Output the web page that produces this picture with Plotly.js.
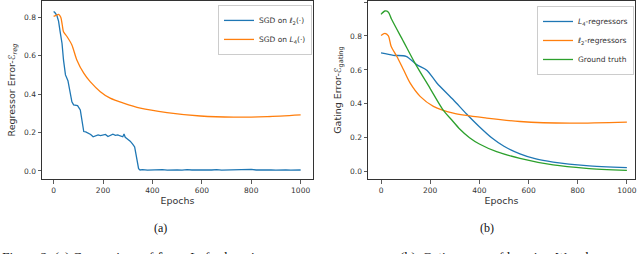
<!DOCTYPE html>
<html><head><meta charset="utf-8">
<script src="https://cdn.plot.ly/plotly-3.0.1.min.js"></script>
<style>html,body{margin:0;padding:0;background:#fff}#chart{width:640px;height:254px}</style>
</head><body><div id="chart"></div><script>
// ---- Panel (a): regressor error ----
const epochsA_l2 = [0,5,13,20,27,34,40,48,58,68,74,81,97,108,115,122,130,140,150,160,170,180,190,200,210,220,230,240,250,260,270,280,285,290,300,310,320,328,333,338,344,350,
  360,380,400,420,440,460,480,500,520,540,560,580,600,620,640,660,680,700,720,740,760,780,800,820,840,860,880,900,920,940,960,980,1000];
const errA_l2 = [0.83,0.825,0.81,0.78,0.72,0.665,0.578,0.50,0.47,0.405,0.36,0.344,0.34,0.318,0.266,0.205,0.203,0.196,0.19,0.178,0.185,0.188,0.184,0.189,0.19,0.179,0.186,0.191,0.185,0.188,0.182,0.178,0.192,0.175,0.165,0.155,0.14,0.125,0.09,0.05,0.012,0.005,
  0.007,0.004,0.006,0.005,0.007,0.004,0.006,0.005,0.004,0.007,0.005,0.006,0.004,0.006,0.005,0.007,0.004,0.005,0.006,0.004,0.005,0.007,0.008,0.005,0.006,0.004,0.005,0.004,0.006,0.005,0.004,0.006,0.005];
const epochsA_L4 = [0,10,20,29,35,40,54,74,94,122,148,189,229,283,351,459,594,729,864,1000];
const errA_L4 = [0.805,0.81,0.815,0.80,0.76,0.725,0.70,0.656,0.578,0.509,0.465,0.413,0.379,0.353,0.327,0.304,0.286,0.28,0.283,0.292];

// ---- Panel (b): gating error ----
const epochsB_L4 = [0,50,102,145,186,227,294,348,400,450,500,565,630,700,835,1000];
const gateB_L4 = [0.70,0.686,0.68,0.631,0.598,0.523,0.424,0.34,0.265,0.2,0.15,0.105,0.075,0.057,0.036,0.024];
const epochsB_l2 = [0,16,30,41,64,91,118,159,213,294,430,565,768,1000];
const gateB_l2 = [0.803,0.815,0.80,0.74,0.68,0.602,0.523,0.444,0.385,0.345,0.316,0.296,0.286,0.292];
const epochsB_gt = [0,16,30,43,91,138,200,252,287,321,360,400,470,565,700,835,1000];
const gateB_gt = [0.927,0.947,0.94,0.898,0.768,0.64,0.49,0.365,0.306,0.25,0.2,0.163,0.118,0.079,0.04,0.02,0.008];

const xTicks = [0,200,400,600,800,1000];
const yTicksA = [0,0.2,0.4,0.6,0.8];
const yTicksB = [0,0.2,0.4,0.6,0.8,1.0];

const C = {blue:'#1f77b4', orange:'#ff7f0e', green:'#2ca02c'};
const lw = 1.3;
const traces = [
  {x:epochsA_l2, y:errA_l2, type:'scatter', mode:'lines', name:'SGD on <i>ℓ</i><sub>2</sub>(·)', line:{color:C.blue,width:lw}, xaxis:'x', yaxis:'y', legend:'legend'},
  {x:epochsA_L4, y:errA_L4, type:'scatter', mode:'lines', name:'SGD on <i>L</i><sub>4</sub>(·)', line:{color:C.orange,width:lw,shape:'spline',smoothing:0.8}, xaxis:'x', yaxis:'y', legend:'legend'},
  {x:epochsB_L4, y:gateB_L4, type:'scatter', mode:'lines', name:'<i>L</i><sub>4</sub>-regressors', line:{color:C.blue,width:lw,shape:'spline',smoothing:0.8}, xaxis:'x2', yaxis:'y2', legend:'legend2'},
  {x:epochsB_l2, y:gateB_l2, type:'scatter', mode:'lines', name:'<i>ℓ</i><sub>2</sub>-regressors', line:{color:C.orange,width:lw,shape:'spline',smoothing:0.8}, xaxis:'x2', yaxis:'y2', legend:'legend2'},
  {x:epochsB_gt, y:gateB_gt, type:'scatter', mode:'lines', name:'Ground truth', line:{color:C.green,width:lw,shape:'spline',smoothing:0.8}, xaxis:'x2', yaxis:'y2', legend:'legend2'}
];

const tickFont = {family:'DejaVu Sans', size:7.5, color:'#333'};
const titleFont = {family:'DejaVu Sans', size:9.5, color:'#333'};
const axBase = {showline:true, mirror:true, linecolor:'#333', linewidth:1, ticks:'outside', ticklen:3.5, tickwidth:0.8, tickcolor:'#333', showgrid:false, zeroline:false, tickfont:tickFont};
const L = 42, R = 5, W = 640;
const pw = W - L - R;
const px = v => (v - L) / pw;

const legBase = {xanchor:'right', yanchor:'top', bgcolor:'rgba(255,255,255,0.85)', bordercolor:'#ccc', borderwidth:1, font:{family:'DejaVu Sans', size:7.5, color:'#333'}, tracegroupgap:0, itemwidth:30};

const layout = {
  width:640, height:254,
  margin:{l:L, r:R, t:1, b:75},
  paper_bgcolor:'#fff', plot_bgcolor:'#fff',
  showlegend:true,
  xaxis:Object.assign({}, axBase, {domain:[0, px(313)], range:[-47,1050], tickvals:xTicks, anchor:'y',
     title:{text:'Epochs', font:titleFont, standoff:3}}),
  yaxis:Object.assign({}, axBase, {domain:[0,1], range:[-0.042,0.885], tickvals:yTicksA, tickformat:'.1f', anchor:'x',
     title:{text:'Regressor Error-ℰ<sub><i>reg</i></sub>', font:titleFont, standoff:6}}),
  xaxis2:Object.assign({}, axBase, {domain:[px(368), 1], range:[-53,1033], tickvals:xTicks, anchor:'y2',
     title:{text:'Epochs', font:titleFont, standoff:3}}),
  yaxis2:Object.assign({}, axBase, {domain:[0,1], range:[-0.043,1.006], tickvals:yTicksB, tickformat:'.1f', anchor:'x2',
     title:{text:'Gating Error-ℰ<sub>gating</sub>', font:titleFont, standoff:6}}),
  legend:Object.assign({}, legBase, {x:px(312), y:0.978}),
  legend2:Object.assign({}, legBase, {x:px(634), y:0.972}),
  annotations:[
    {text:'(a)', xref:'paper', yref:'paper', x:px(160), y:(179-228)/178, xanchor:'center', yanchor:'middle', showarrow:false, font:{family:'Liberation Serif', size:12, color:'#111'}},
    {text:'(b)', xref:'paper', yref:'paper', x:px(487), y:(179-228)/178, xanchor:'center', yanchor:'middle', showarrow:false, font:{family:'Liberation Serif', size:12, color:'#111'}},
    {text:'Figure 2: (a) Comparison of <i>ℓ</i><sub>2</sub> vs. <i>L</i><sub>4</sub> for learning', xref:'paper', yref:'paper', x:px(0), y:(179-247)/178, xanchor:'left', yanchor:'top', showarrow:false, font:{family:'Liberation Serif', size:13.5, color:'#111'}},
    {text:'(b). Gating error of learning <i>W</i> and', xref:'paper', yref:'paper', x:px(398), y:(179-247)/178, xanchor:'left', yanchor:'top', showarrow:false, font:{family:'Liberation Serif', size:13.5, color:'#111'}}
  ]
};

Plotly.newPlot('chart', traces, layout, {staticPlot:true, displayModeBar:false});
</script></body></html>
